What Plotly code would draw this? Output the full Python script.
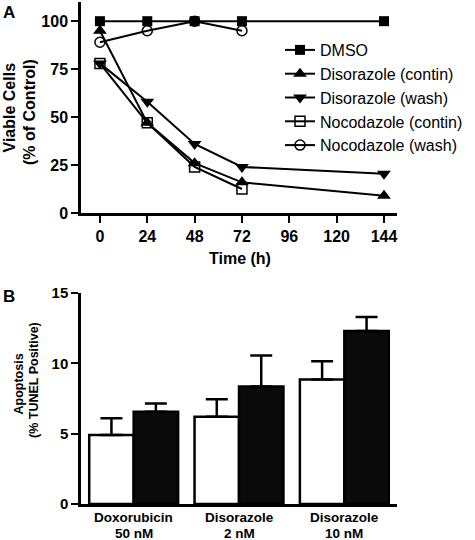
import plotly.graph_objects as go

# ---------------- Data: panel A ----------------
hours = [0, 24, 48, 72, 144]
hours_noc = [0, 24, 48, 72]
dmso = [100, 100, 100, 100, 100]
diso_contin = [95, 47, 26, 16, 9]
diso_wash = [78, 58, 36, 24, 20.5]
noco_contin = [78, 47, 24, 12.5]
noco_wash = [89, 95, 100, 95]
x_ticks_a = [0, 24, 48, 72, 96, 120, 144]
y_ticks_a = [0, 25, 50, 75, 100]

# ---------------- Data: panel B ----------------
drugs = ["Doxorubicin", "Disorazole", "Disorazole"]
doses = ["50 nM", "2 nM", "10 nM"]
white_vals = [4.9, 6.2, 8.85]
white_err = [1.2, 1.25, 1.3]
black_vals = [6.55, 8.35, 12.3]
black_err = [0.6, 2.2, 1.0]
y_ticks_b = [0, 5, 10, 15]

FONT = "Liberation Sans, Arial, sans-serif"
W, H = 475, 540
ML, MR = 81, 78
PW = W - ML - MR

def px(x):
    return (x - ML) / PW

def py(y):
    return 1 - y / H

categories = [f"{d} {c}" for d, c in zip(drugs, doses)]

fig = go.Figure()

def line_trace(x, y, name, symbol, size, open_=False):
    return go.Scatter(
        x=x, y=y, name=name, mode="lines+markers",
        line=dict(color="black", width=2),
        marker=dict(symbol=symbol, size=size, color="black",
                    line=dict(color="black", width=1.5 if open_ else 0)),
        xaxis="x", yaxis="y",
    )

fig.add_trace(line_trace(hours_noc, noco_wash, "Nocodazole (wash)", "circle-open", 10, True))
fig.add_trace(line_trace(hours_noc, noco_contin, "Nocodazole (contin)", "square-open", 10, True))
fig.add_trace(line_trace(hours, diso_wash, "Disorazole (wash)", "triangle-down", 12))
fig.add_trace(line_trace(hours, diso_contin, "Disorazole (contin)", "triangle-up", 12))
fig.add_trace(line_trace(hours, dmso, "DMSO", "square", 10))

fig.add_trace(go.Bar(
    x=categories, y=white_vals, name="white", showlegend=False,
    marker=dict(color="white", line=dict(color="black", width=2.5)),
    error_y=dict(type="data", symmetric=False, array=white_err,
                 arrayminus=[0] * 3, color="black", thickness=2.5, width=11),
    xaxis="x2", yaxis="y2",
))
fig.add_trace(go.Bar(
    x=categories, y=black_vals, name="black", showlegend=False,
    marker=dict(color="#0a0a0a", line=dict(color="black", width=2.5)),
    error_y=dict(type="data", symmetric=False, array=black_err,
                 arrayminus=[0] * 3, color="black", thickness=2.5, width=11),
    xaxis="x2", yaxis="y2",
))

axis_common = dict(showgrid=False, zeroline=False, showline=True,
                   linecolor="black", linewidth=2.5, ticks="outside",
                   ticklen=7, tickwidth=2, tickcolor="black")

fig.update_layout(
    width=W, height=H,
    margin=dict(l=ML, r=MR, t=0, b=0, autoexpand=False),
    paper_bgcolor="white", plot_bgcolor="white",
    font=dict(family=FONT, color="black"),
    barmode="group", bargap=0.156, bargroupgap=0,
    xaxis=dict(**axis_common, domain=[0, 1], anchor="y",
               range=[-9.6, 150.6], tickvals=x_ticks_a,
               tickfont=dict(size=16, weight=700, family=FONT)),
    yaxis=dict(**axis_common, domain=[py(213), py(2)], anchor="x",
               range=[0, 110], tickvals=y_ticks_a,
               tickfont=dict(size=16, weight=700, family=FONT)),
    xaxis2=dict(showgrid=False, zeroline=False, showline=True,
                linecolor="black", linewidth=2.5, ticks="",
                showticklabels=False,
                domain=[0, 1], anchor="y2", range=[-0.5, 2.5]),
    yaxis2=dict(**axis_common, domain=[py(504), py(293)], anchor="x2",
                range=[0, 15], tickvals=y_ticks_b,
                tickfont=dict(size=15, weight=700, family=FONT)),
    legend=dict(x=px(280), y=py(33), xanchor="left", yanchor="top",
                font=dict(size=16, family=FONT), bgcolor="rgba(0,0,0,0)",
                traceorder="reversed"),
    showlegend=True,
)

def ann(text, x, y, size, angle=0, weight=700, xref="paper", xval=None):
    fig.add_annotation(text=text, x=px(x) if xval is None else xval,
                       y=py(y), xref=xref, yref="paper",
                       showarrow=False, xanchor="center", yanchor="middle",
                       textangle=angle,
                       font=dict(size=size, weight=weight, family=FONT, color="black"))

ann("A", 8.5, 12.5, 17)
ann("B", 8.5, 296, 17)
ann("Viable Cells", 9.5, 108, 16, -90)
ann("(% of Control)", 30, 112, 16, -90)
ann("Time (h)", 240, 258, 16)
ann("Apoptosis", 18.5, 384, 12.5, -90)
ann("(% TUNEL Positive)", 34, 380, 12.5, -90)

for cat, drug, dose in zip(categories, drugs, doses):
    ann(drug, 0, 517, 13.5, xref="x2", xval=cat)
    ann(dose, 0, 533, 13.5, xref="x2", xval=cat)

fig.write_html("out.html",
               config={"displayModeBar": False},
               post_script="document.body.style.margin='0';document.body.style.overflow='hidden';")
